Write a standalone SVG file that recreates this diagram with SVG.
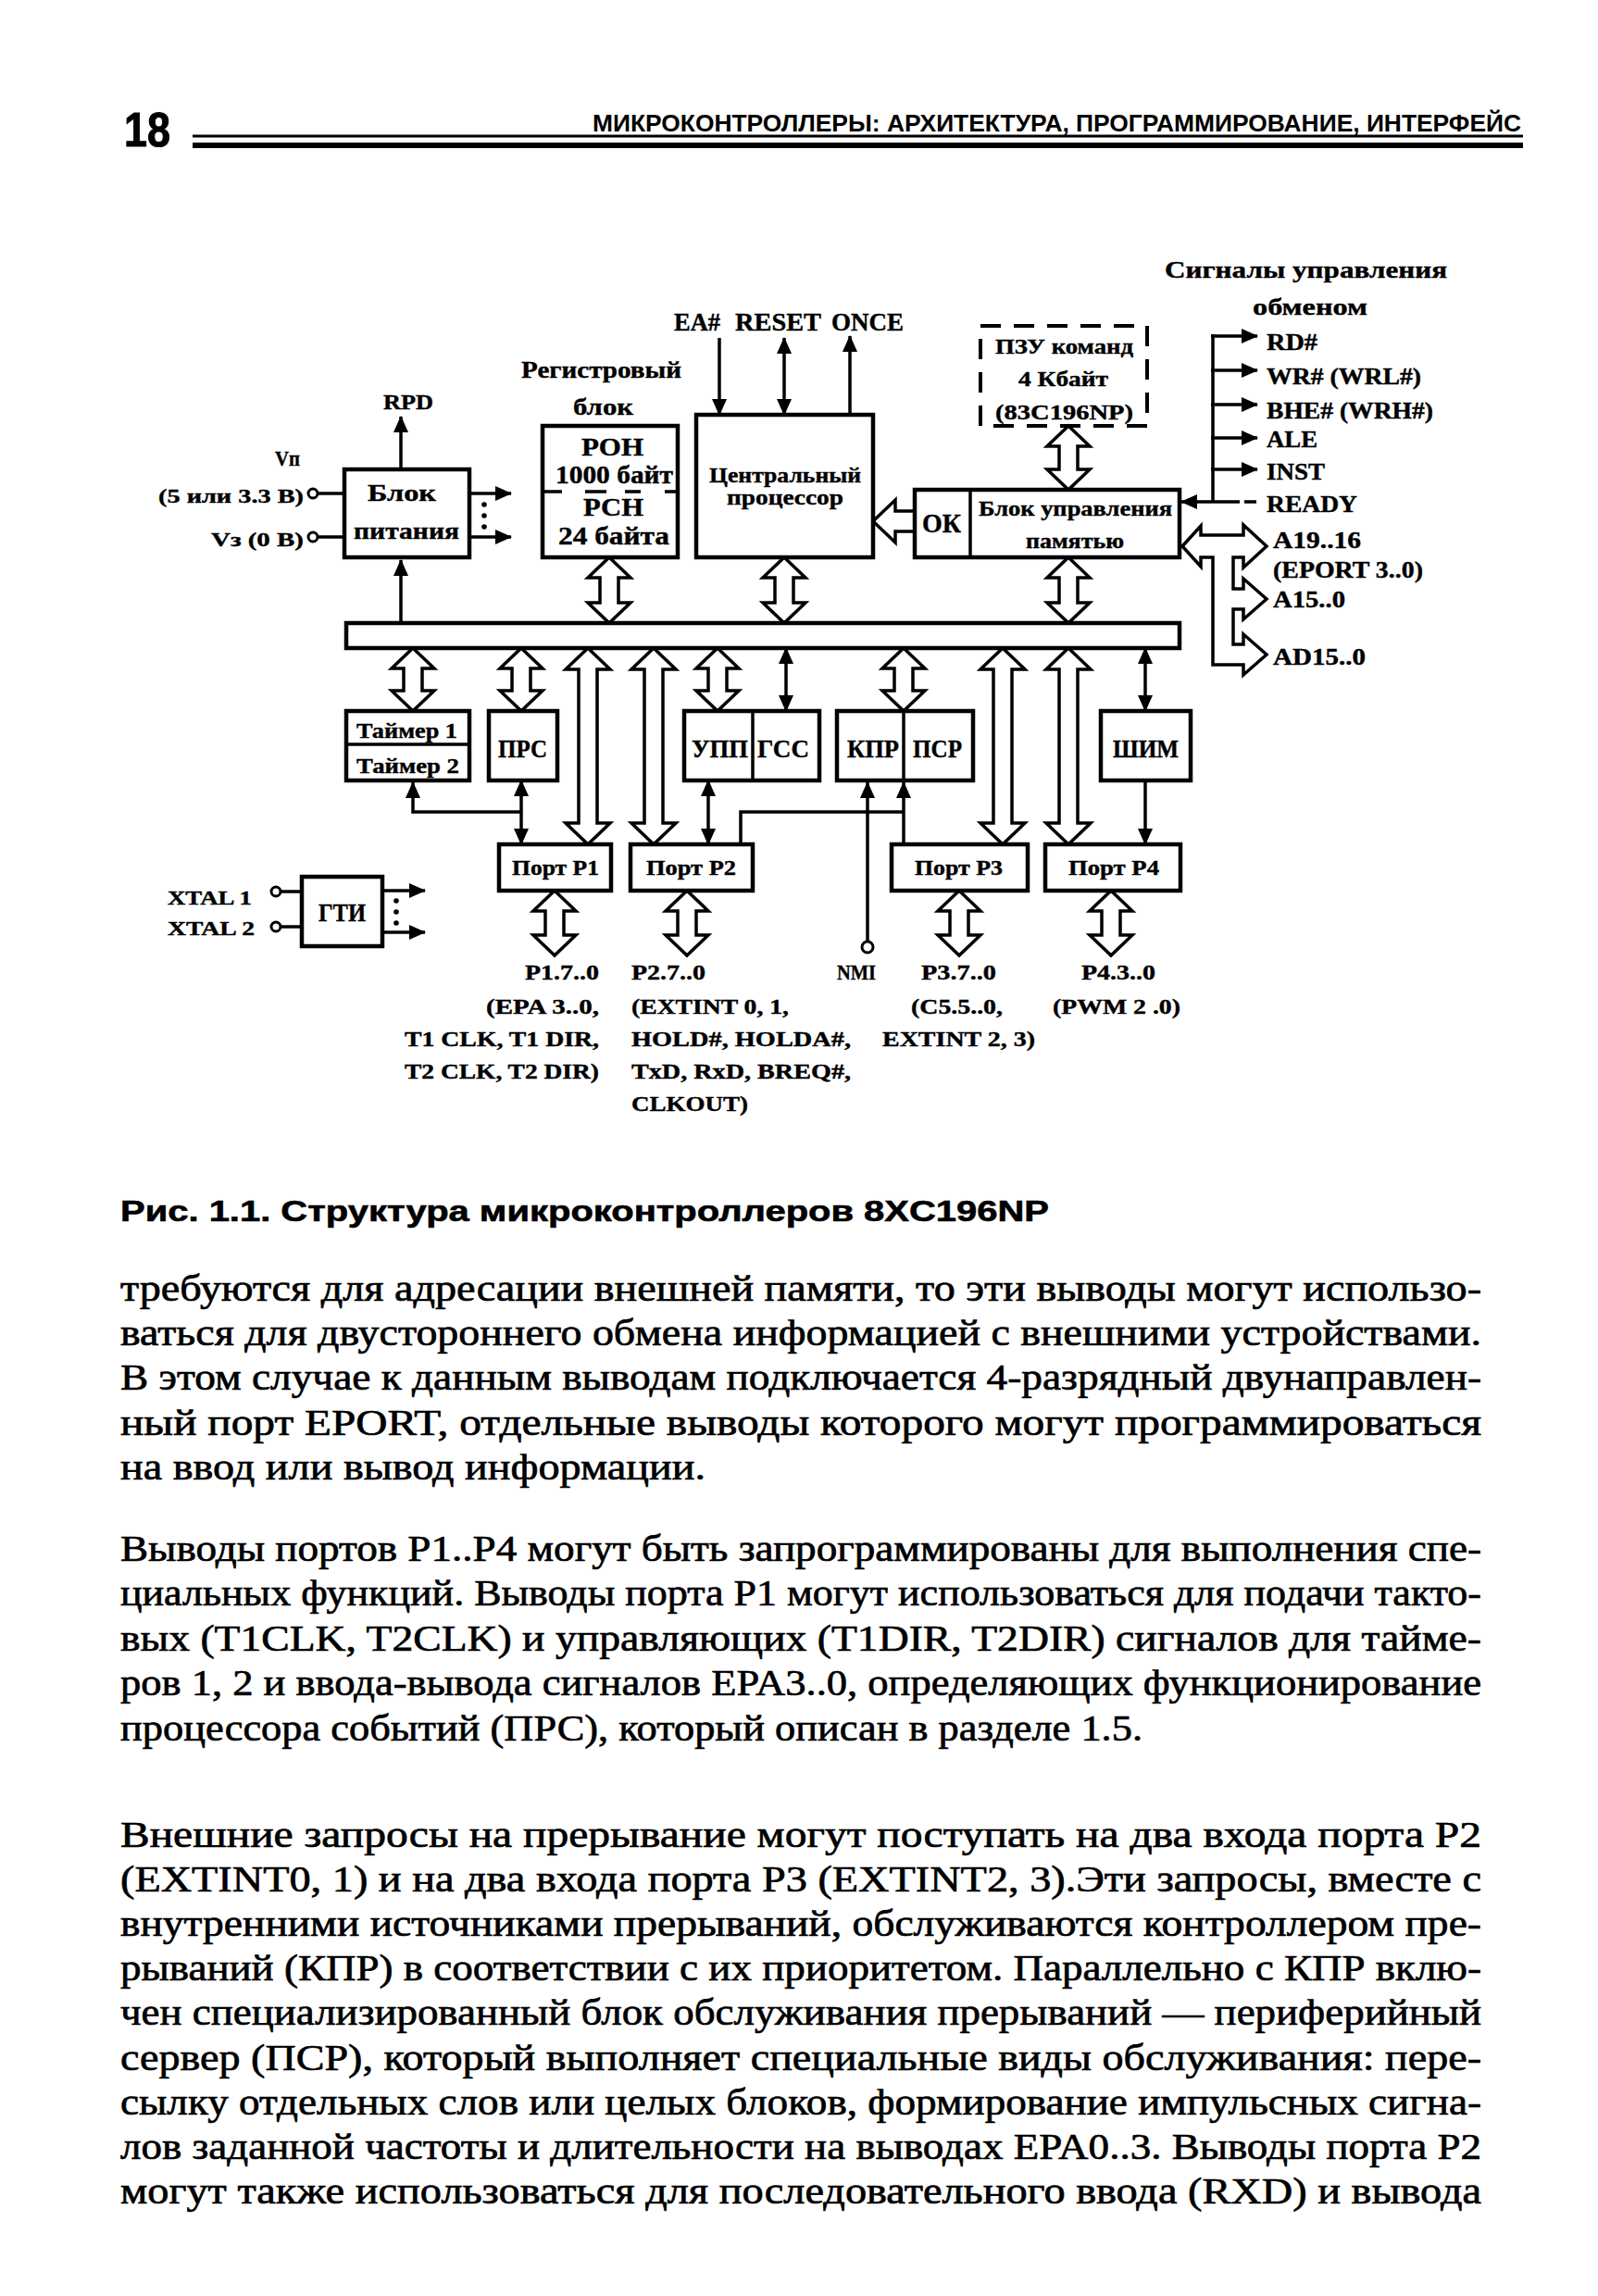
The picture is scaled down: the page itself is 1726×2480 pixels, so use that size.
<svg xmlns="http://www.w3.org/2000/svg" width="1726" height="2480" viewBox="0 0 1726 2480">
<style>
.bx{fill:#fff;stroke:#000;stroke-width:4.5}
.dash{fill:none;stroke:#000;stroke-width:4;stroke-dasharray:22 14}
.ln{fill:none;stroke:#000;stroke-width:3.5}
.ha{fill:#fff;stroke:#000;stroke-width:3.5;stroke-linejoin:miter}
.pin{fill:#fff;stroke:#000;stroke-width:3}
.dot{fill:#000}
.t{font-family:"Liberation Serif","Noto Serif",serif;font-weight:bold;fill:#000;stroke:#000;stroke-width:0.4}
.body{font-family:"Liberation Serif","Noto Serif",serif;font-size:40px;fill:#000;stroke:#000;stroke-width:0.7}
.hd{font-family:"Liberation Sans",Arial,sans-serif;font-weight:bold;fill:#000}
</style>
<defs>
<marker id="ah" viewBox="0 0 18 16" refX="17" refY="8" markerWidth="18" markerHeight="16" markerUnits="userSpaceOnUse" orient="auto-start-reverse"><path d="M0,0 L18,8 L0,16 Z"/></marker>
</defs>
<rect x="0" y="0" width="1726" height="2480" fill="#fff"/>

<g id="page-header">
<text class="hd" x="134" y="158" font-size="52" font-weight="normal" stroke="#000" stroke-width="1" textLength="50" lengthAdjust="spacingAndGlyphs">18</text>
<text class="hd" x="640" y="142" font-size="25" textLength="1003" lengthAdjust="spacingAndGlyphs">МИКРОКОНТРОЛЛЕРЫ: АРХИТЕКТУРА, ПРОГРАММИРОВАНИЕ, ИНТЕРФЕЙС</text>
<line x1="208" y1="147" x2="1645" y2="147" stroke="#000" stroke-width="3"/>
<line x1="208" y1="157" x2="1645" y2="157" stroke="#000" stroke-width="6"/>
</g>

<g id="connectors">
<path class="ha" d="M658,602 L681,624 L668,624 L668,651 L681,651 L658,673 L635,651 L648,651 L648,624 L635,624 Z"/>
<path class="ha" d="M847,602 L870,624 L857,624 L857,651 L870,651 L847,673 L824,651 L837,651 L837,624 L824,624 Z"/>
<path class="ha" d="M1154,602 L1177,624 L1164,624 L1164,651 L1177,651 L1154,673 L1131,651 L1144,651 L1144,624 L1131,624 Z"/>
<path class="ha" d="M1154,460 L1177,482 L1164,482 L1164,507 L1177,507 L1154,529 L1131,507 L1144,507 L1144,482 L1131,482 Z"/>
<path class="ha" d="M446,700 L469,722 L456,722 L456,746 L469,746 L446,768 L423,746 L436,746 L436,722 L423,722 Z"/>
<path class="ha" d="M563,700 L586,722 L573,722 L573,746 L586,746 L563,768 L540,746 L553,746 L553,722 L540,722 Z"/>
<path class="ha" d="M775,700 L798,722 L785,722 L785,746 L798,746 L775,768 L752,746 L765,746 L765,722 L752,722 Z"/>
<path class="ha" d="M976,700 L999,722 L986,722 L986,746 L999,746 L976,768 L953,746 L966,746 L966,722 L953,722 Z"/>
<path class="ha" d="M635,700 L659,723 L645,723 L645,889 L659,889 L635,912 L611,889 L625,889 L625,723 L611,723 Z"/>
<path class="ha" d="M706,700 L730,723 L716,723 L716,889 L730,889 L706,912 L682,889 L696,889 L696,723 L682,723 Z"/>
<path class="ha" d="M1083,700 L1107,723 L1093,723 L1093,889 L1107,889 L1083,912 L1059,889 L1073,889 L1073,723 L1059,723 Z"/>
<path class="ha" d="M1154,700 L1178,723 L1164,723 L1164,889 L1178,889 L1154,912 L1130,889 L1144,889 L1144,723 L1130,723 Z"/>
<path class="ha" d="M599,962 L622,984 L609,984 L609,1010 L622,1010 L599,1032 L576,1010 L589,1010 L589,984 L576,984 Z"/>
<path class="ha" d="M742,962 L765,984 L752,984 L752,1010 L765,1010 L742,1032 L719,1010 L732,1010 L732,984 L719,984 Z"/>
<path class="ha" d="M1036,962 L1059,984 L1046,984 L1046,1010 L1059,1010 L1036,1032 L1013,1010 L1026,1010 L1026,984 L1013,984 Z"/>
<path class="ha" d="M1200,962 L1223,984 L1210,984 L1210,1010 L1223,1010 L1200,1032 L1177,1010 L1190,1010 L1190,984 L1177,984 Z"/>
<path class="ha" d="M943,563 L967,540 L967,552 L988,552 L988,574 L967,574 L967,586 Z"/>
<path class="ha" d="M1277,590 L1297,568 L1297,578 L1343,578 L1343,567 L1368,590 L1343,613 L1343,602 L1332,602 L1332,636 L1343,636 L1343,625 L1368,647 L1343,669 L1343,658 L1332,658 L1332,696 L1343,696 L1343,685 L1368,707 L1343,729 L1343,718 L1310,718 L1310,602 L1297,602 L1297,612 Z"/>

<line class="ln" x1="433" y1="508" x2="433" y2="450" marker-end="url(#ah)"/>
<line class="ln" x1="433" y1="673" x2="433" y2="605" marker-end="url(#ah)"/>
<line class="ln" x1="343" y1="533" x2="372" y2="533"/>
<line class="ln" x1="343" y1="580" x2="372" y2="580"/>
<circle class="pin" cx="338" cy="533" r="5"/>
<circle class="pin" cx="338" cy="580" r="5"/>
<line class="ln" x1="507" y1="533" x2="552" y2="533" marker-end="url(#ah)"/>
<line class="ln" x1="507" y1="580" x2="552" y2="580" marker-end="url(#ah)"/>
<circle class="dot" cx="523" cy="545" r="2.8"/>
<circle class="dot" cx="523" cy="557" r="2.8"/>
<circle class="dot" cx="523" cy="569" r="2.8"/>

<line class="ln" x1="777" y1="365" x2="777" y2="448" marker-end="url(#ah)"/>
<line class="ln" x1="847" y1="365" x2="847" y2="448" marker-start="url(#ah)" marker-end="url(#ah)"/>
<line class="ln" x1="918" y1="448" x2="918" y2="363" marker-end="url(#ah)"/>

<line class="ln" x1="1310" y1="361" x2="1310" y2="542"/>
<line class="ln" x1="1308" y1="363" x2="1358" y2="363" marker-end="url(#ah)"/>
<line class="ln" x1="1308" y1="400" x2="1358" y2="400" marker-end="url(#ah)"/>
<line class="ln" x1="1308" y1="437" x2="1358" y2="437" marker-end="url(#ah)"/>
<line class="ln" x1="1308" y1="473" x2="1358" y2="473" marker-end="url(#ah)"/>
<line class="ln" x1="1308" y1="507" x2="1358" y2="507" marker-end="url(#ah)"/>
<line class="ln" x1="1339" y1="542" x2="1276" y2="542" marker-end="url(#ah)"/>
<line class="ln" x1="1344" y1="542" x2="1357" y2="542"/>

<line class="ln" x1="849" y1="700" x2="849" y2="768" marker-start="url(#ah)" marker-end="url(#ah)"/>
<line class="ln" x1="1237" y1="700" x2="1237" y2="768" marker-start="url(#ah)" marker-end="url(#ah)"/>
<line class="ln" x1="1237" y1="843" x2="1237" y2="912" marker-end="url(#ah)"/>
<line class="ln" x1="563" y1="843" x2="563" y2="912" marker-start="url(#ah)" marker-end="url(#ah)"/>
<polyline class="ln" points="563,877 446,877 446,845" marker-end="url(#ah)"/>
<line class="ln" x1="765" y1="843" x2="765" y2="912" marker-start="url(#ah)" marker-end="url(#ah)"/>
<polyline class="ln" points="800,912 800,877 976,877"/>
<line class="ln" x1="976" y1="912" x2="976" y2="845" marker-end="url(#ah)"/>
<line class="ln" x1="937" y1="1017" x2="937" y2="845" marker-end="url(#ah)"/>
<circle class="pin" cx="937" cy="1023" r="6"/>

<circle class="pin" cx="298" cy="963" r="5"/>
<circle class="pin" cx="298" cy="1001" r="5"/>
<line class="ln" x1="303" y1="963" x2="326" y2="963"/>
<line class="ln" x1="303" y1="1001" x2="326" y2="1001"/>
<line class="ln" x1="413" y1="962" x2="459" y2="962" marker-end="url(#ah)"/>
<line class="ln" x1="413" y1="1007" x2="459" y2="1007" marker-end="url(#ah)"/>
<circle class="dot" cx="428" cy="973" r="2.8"/>
<circle class="dot" cx="428" cy="985" r="2.8"/>
<circle class="dot" cx="428" cy="997" r="2.8"/>
</g>

<g id="bus"><rect class="bx" x="374" y="673" width="900" height="27"/></g>

<g id="power">
<rect class="bx" x="372" y="507" width="135" height="95"/>
<text class="t" x="397" y="541" font-size="26" textLength="74" lengthAdjust="spacingAndGlyphs">Блок</text>
<text class="t" x="382" y="582" font-size="26" textLength="114" lengthAdjust="spacingAndGlyphs">питания</text>
</g>
<g id="power-labels">
<text class="t" x="414" y="442" font-size="24" textLength="54" lengthAdjust="spacingAndGlyphs">RPD</text>
<text class="t" x="297" y="503" font-size="24" textLength="27" lengthAdjust="spacingAndGlyphs">Vп</text>
<text class="t" x="171" y="543" font-size="22" textLength="157" lengthAdjust="spacingAndGlyphs">(5 или 3.3 В)</text>
<text class="t" x="228" y="590" font-size="22" textLength="100" lengthAdjust="spacingAndGlyphs">Vз (0 В)</text>
</g>

<g id="registers">
<text class="t" x="563" y="408" font-size="26" textLength="173" lengthAdjust="spacingAndGlyphs">Регистровый</text>
<text class="t" x="619" y="448" font-size="26" textLength="65" lengthAdjust="spacingAndGlyphs">блок</text>
<rect class="bx" x="586" y="460" width="146" height="142"/>
<path class="ln" d="M586,531 H607 M632,531 H655 M675,531 H692 M718,531 H732"/>
<text class="t" x="628" y="492" font-size="28" textLength="67" lengthAdjust="spacingAndGlyphs">РОН</text>
<text class="t" x="600" y="522" font-size="27" textLength="127" lengthAdjust="spacingAndGlyphs">1000 байт</text>
<text class="t" x="630" y="557" font-size="28" textLength="65" lengthAdjust="spacingAndGlyphs">РСН</text>
<text class="t" x="603" y="588" font-size="27" textLength="120" lengthAdjust="spacingAndGlyphs">24 байта</text>
</g>

<g id="cpu">
<text class="t" x="728" y="357" font-size="27" textLength="50" lengthAdjust="spacingAndGlyphs">EA#</text>
<text class="t" x="794" y="357" font-size="27" textLength="93" lengthAdjust="spacingAndGlyphs">RESET</text>
<text class="t" x="898" y="357" font-size="27" textLength="78" lengthAdjust="spacingAndGlyphs">ONCE</text>
<rect class="bx" x="752" y="448" width="191" height="154"/>
<text class="t" x="766" y="521" font-size="24" textLength="164" lengthAdjust="spacingAndGlyphs">Центральный</text>
<text class="t" x="785" y="545" font-size="24" textLength="126" lengthAdjust="spacingAndGlyphs">процессор</text>
</g>

<g id="rom">
<rect class="dash" x="1059" y="352" width="180" height="108"/>
<text class="t" x="1075" y="382" font-size="23" textLength="149" lengthAdjust="spacingAndGlyphs">ПЗУ команд</text>
<text class="t" x="1100" y="417" font-size="23" textLength="97" lengthAdjust="spacingAndGlyphs">4 Кбайт</text>
<text class="t" x="1075" y="453" font-size="23" textLength="149" lengthAdjust="spacingAndGlyphs">(83C196NP)</text>
</g>

<g id="memctrl">
<rect class="bx" x="988" y="529" width="286" height="73"/>
<line class="ln" x1="1048" y1="529" x2="1048" y2="602" stroke-width="4"/>
<text class="t" x="996" y="575" font-size="30" textLength="42" lengthAdjust="spacingAndGlyphs">ОК</text>
<text class="t" x="1057" y="557" font-size="23" textLength="209" lengthAdjust="spacingAndGlyphs">Блок управления</text>
<text class="t" x="1108" y="592" font-size="23" textLength="106" lengthAdjust="spacingAndGlyphs">памятью</text>
</g>

<g id="bus-signals">
<text class="t" x="1258" y="300" font-size="26" textLength="305" lengthAdjust="spacingAndGlyphs">Сигналы управления</text>
<text class="t" x="1353" y="340" font-size="26" textLength="124" lengthAdjust="spacingAndGlyphs">обменом</text>
<text class="t" x="1368" y="378" font-size="25" textLength="55" lengthAdjust="spacingAndGlyphs">RD#</text>
<text class="t" x="1368" y="415" font-size="25" textLength="167" lengthAdjust="spacingAndGlyphs">WR# (WRL#)</text>
<text class="t" x="1368" y="452" font-size="25" textLength="180" lengthAdjust="spacingAndGlyphs">BHE# (WRH#)</text>
<text class="t" x="1368" y="483" font-size="25" textLength="55" lengthAdjust="spacingAndGlyphs">ALE</text>
<text class="t" x="1368" y="518" font-size="25" textLength="63" lengthAdjust="spacingAndGlyphs">INST</text>
<text class="t" x="1368" y="553" font-size="25" textLength="98" lengthAdjust="spacingAndGlyphs">READY</text>
<text class="t" x="1375" y="592" font-size="25" textLength="95" lengthAdjust="spacingAndGlyphs">A19..16</text>
<text class="t" x="1375" y="624" font-size="25" textLength="162" lengthAdjust="spacingAndGlyphs">(EPORT 3..0)</text>
<text class="t" x="1375" y="656" font-size="25" textLength="78" lengthAdjust="spacingAndGlyphs">A15..0</text>
<text class="t" x="1375" y="718" font-size="25" textLength="100" lengthAdjust="spacingAndGlyphs">AD15..0</text>
</g>

<g id="timers">
<rect class="bx" x="374" y="768" width="133" height="75"/>
<line class="ln" x1="374" y1="804" x2="507" y2="804" stroke-width="4"/>
<text class="t" x="385" y="797" font-size="24" textLength="109" lengthAdjust="spacingAndGlyphs">Таймер 1</text>
<text class="t" x="385" y="835" font-size="24" textLength="111" lengthAdjust="spacingAndGlyphs">Таймер 2</text>
</g>
<g id="prs">
<rect class="bx" x="528" y="768" width="74" height="75"/>
<text class="t" x="538" y="818" font-size="27" textLength="53" lengthAdjust="spacingAndGlyphs">ПРС</text>
</g>
<g id="upp-gss">
<rect class="bx" x="739" y="768" width="146" height="75"/>
<line class="ln" x1="813" y1="768" x2="813" y2="843" stroke-width="4"/>
<text class="t" x="747" y="818" font-size="27" textLength="61" lengthAdjust="spacingAndGlyphs">УПП</text>
<text class="t" x="818" y="818" font-size="27" textLength="56" lengthAdjust="spacingAndGlyphs">ГСС</text>
</g>
<g id="kpr-psr">
<rect class="bx" x="904" y="768" width="147" height="75"/>
<line class="ln" x1="976" y1="768" x2="976" y2="843" stroke-width="4"/>
<text class="t" x="915" y="818" font-size="27" textLength="56" lengthAdjust="spacingAndGlyphs">КПР</text>
<text class="t" x="986" y="818" font-size="27" textLength="53" lengthAdjust="spacingAndGlyphs">ПСР</text>
</g>
<g id="pwm">
<rect class="bx" x="1189" y="768" width="97" height="75"/>
<text class="t" x="1202" y="818" font-size="27" textLength="71" lengthAdjust="spacingAndGlyphs">ШИМ</text>
</g>

<g id="port-p1"><rect class="bx" x="539" y="912" width="121" height="50"/>
<text class="t" x="553" y="945" font-size="23" textLength="94" lengthAdjust="spacingAndGlyphs">Порт P1</text></g>
<g id="port-p2"><rect class="bx" x="681" y="912" width="132" height="50"/>
<text class="t" x="698" y="945" font-size="23" textLength="97" lengthAdjust="spacingAndGlyphs">Порт P2</text></g>
<g id="port-p3"><rect class="bx" x="963" y="912" width="147" height="50"/>
<text class="t" x="988" y="945" font-size="23" textLength="95" lengthAdjust="spacingAndGlyphs">Порт P3</text></g>
<g id="port-p4"><rect class="bx" x="1129" y="912" width="146" height="50"/>
<text class="t" x="1154" y="945" font-size="23" textLength="98" lengthAdjust="spacingAndGlyphs">Порт P4</text></g>

<g id="gti">
<rect class="bx" x="326" y="947" width="87" height="75"/>
<text class="t" x="344" y="995" font-size="27" textLength="51" lengthAdjust="spacingAndGlyphs">ГТИ</text>
<text class="t" x="181" y="977" font-size="22" textLength="91" lengthAdjust="spacingAndGlyphs">XTAL 1</text>
<text class="t" x="181" y="1010" font-size="22" textLength="94" lengthAdjust="spacingAndGlyphs">XTAL 2</text>
</g>

<g id="port-labels">
<text class="t" x="567" y="1058" font-size="23" textLength="80" lengthAdjust="spacingAndGlyphs">P1.7..0</text>
<text class="t" x="525" y="1095" font-size="23" textLength="122" lengthAdjust="spacingAndGlyphs">(EPA 3..0,</text>
<text class="t" x="437" y="1130" font-size="23" textLength="210" lengthAdjust="spacingAndGlyphs">T1 CLK, T1 DIR,</text>
<text class="t" x="437" y="1165" font-size="23" textLength="210" lengthAdjust="spacingAndGlyphs">T2 CLK, T2 DIR)</text>
<text class="t" x="682" y="1058" font-size="23" textLength="80" lengthAdjust="spacingAndGlyphs">P2.7..0</text>
<text class="t" x="682" y="1095" font-size="23" textLength="170" lengthAdjust="spacingAndGlyphs">(EXTINT 0, 1,</text>
<text class="t" x="682" y="1130" font-size="23" textLength="237" lengthAdjust="spacingAndGlyphs">HOLD#, HOLDA#,</text>
<text class="t" x="682" y="1165" font-size="23" textLength="237" lengthAdjust="spacingAndGlyphs">TxD, RxD, BREQ#,</text>
<text class="t" x="682" y="1200" font-size="23" textLength="126" lengthAdjust="spacingAndGlyphs">CLKOUT)</text>
<text class="t" x="904" y="1058" font-size="23" textLength="42" lengthAdjust="spacingAndGlyphs">NMI</text>
<text class="t" x="995" y="1058" font-size="23" textLength="81" lengthAdjust="spacingAndGlyphs">P3.7..0</text>
<text class="t" x="984" y="1095" font-size="23" textLength="99" lengthAdjust="spacingAndGlyphs">(C5.5..0,</text>
<text class="t" x="953" y="1130" font-size="23" textLength="165" lengthAdjust="spacingAndGlyphs">EXTINT 2, 3)</text>
<text class="t" x="1168" y="1058" font-size="23" textLength="80" lengthAdjust="spacingAndGlyphs">P4.3..0</text>
<text class="t" x="1137" y="1095" font-size="23" textLength="138" lengthAdjust="spacingAndGlyphs">(PWM 2 .0)</text>
</g>

<g id="caption">
<text class="hd" x="130" y="1319" font-size="31" stroke="#000" stroke-width="0.6" textLength="1003" lengthAdjust="spacingAndGlyphs">Рис. 1.1. Структура микроконтроллеров 8XC196NP</text>
</g>

<g id="body-text">
<text class="body" x="130" y="1405" textLength="1470" lengthAdjust="spacingAndGlyphs">требуются для адресации внешней памяти, то эти выводы могут использо-</text>
<text class="body" x="130" y="1453" textLength="1470" lengthAdjust="spacingAndGlyphs">ваться для двустороннего обмена информацией с внешними устройствами.</text>
<text class="body" x="130" y="1501" textLength="1470" lengthAdjust="spacingAndGlyphs">В этом случае к данным выводам подключается 4-разрядный двунаправлен-</text>
<text class="body" x="130" y="1550" textLength="1470" lengthAdjust="spacingAndGlyphs">ный порт EPORT, отдельные выводы которого могут программироваться</text>
<text class="body" x="130" y="1598" textLength="632" lengthAdjust="spacingAndGlyphs">на ввод или вывод информации.</text>

<text class="body" x="130" y="1686" textLength="1470" lengthAdjust="spacingAndGlyphs">Выводы портов P1..P4 могут быть запрограммированы для выполнения спе-</text>
<text class="body" x="130" y="1734" textLength="1470" lengthAdjust="spacingAndGlyphs">циальных функций. Выводы порта P1 могут использоваться для подачи такто-</text>
<text class="body" x="130" y="1783" textLength="1470" lengthAdjust="spacingAndGlyphs">вых (T1CLK, T2CLK) и управляющих (T1DIR, T2DIR) сигналов для тайме-</text>
<text class="body" x="130" y="1831" textLength="1470" lengthAdjust="spacingAndGlyphs">ров 1, 2 и ввода-вывода сигналов EPA3..0, определяющих функционирование</text>
<text class="body" x="130" y="1880" textLength="1104" lengthAdjust="spacingAndGlyphs">процессора событий (ПРС), который описан в разделе 1.5.</text>

<text class="body" x="130" y="1995" textLength="1470" lengthAdjust="spacingAndGlyphs">Внешние запросы на прерывание могут поступать на два входа порта P2</text>
<text class="body" x="130" y="2043" textLength="1470" lengthAdjust="spacingAndGlyphs">(EXTINT0, 1) и на два входа порта P3 (EXTINT2, 3).Эти запросы, вместе с</text>
<text class="body" x="130" y="2091" textLength="1470" lengthAdjust="spacingAndGlyphs">внутренними источниками прерываний, обслуживаются контроллером пре-</text>
<text class="body" x="130" y="2139" textLength="1470" lengthAdjust="spacingAndGlyphs">рываний (КПР) в соответствии с их приоритетом. Параллельно с КПР вклю-</text>
<text class="body" x="130" y="2187" textLength="1470" lengthAdjust="spacingAndGlyphs">чен специализированный блок обслуживания прерываний — периферийный</text>
<text class="body" x="130" y="2236" textLength="1470" lengthAdjust="spacingAndGlyphs">сервер (ПСР), который выполняет специальные виды обслуживания: пере-</text>
<text class="body" x="130" y="2284" textLength="1470" lengthAdjust="spacingAndGlyphs">сылку отдельных слов или целых блоков, формирование импульсных сигна-</text>
<text class="body" x="130" y="2332" textLength="1470" lengthAdjust="spacingAndGlyphs">лов заданной частоты и длительности на выводах EPA0..3. Выводы порта P2</text>
<text class="body" x="130" y="2380" textLength="1470" lengthAdjust="spacingAndGlyphs">могут также использоваться для последовательного ввода (RXD) и вывода</text>
</g>
</svg>
